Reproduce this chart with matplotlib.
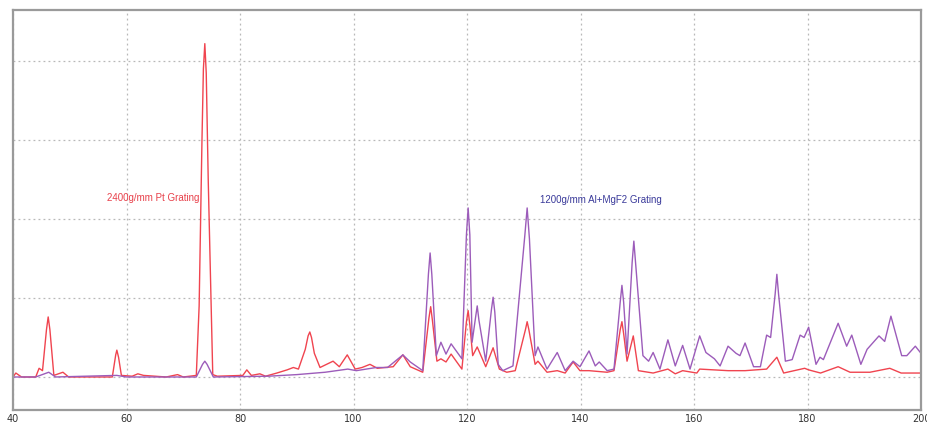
import matplotlib
matplotlib.use("Agg")
import matplotlib.pyplot as plt

# wavelength samples (nm) and relative intensity
pt_x = [40, 40.5, 41.5, 44, 44.6, 45.2, 45.9, 46.2, 46.5, 47.2, 48.8, 49.8, 57.5,
        58.1, 58.3, 58.6, 59.1, 61, 62, 63, 67, 69, 70, 72.3, 72.8, 73.3, 73.55,
        73.8, 74.05, 74.4, 75.2, 76, 80.5, 81.2, 82, 83.5, 84.5, 86.5, 88.3, 89.4,
        90.3, 91.5, 92.0, 92.3, 92.6, 93.1, 94.1, 96.4, 97.5, 98.9, 100.3, 101.5,
        102.9, 104.2, 105.5, 107, 108.7, 110.0, 112.2, 113.3, 113.6, 113.9, 114.7,
        115.4, 116.3, 117.2, 119.1, 119.9, 120.2, 120.5, 121.0, 121.8, 123.3, 124.6,
        125.7, 127, 128.5, 130.3, 130.6, 130.9, 132.0, 132.5, 134.1, 135.9, 137.3,
        138.7, 139.9, 141.5, 144.7, 145.9, 147.0, 147.3, 147.6, 148.2, 149.3, 150.2,
        152.8, 155.4, 156.7, 158.0, 160.5, 161.0, 166, 169, 172.8, 174.6, 175.8,
        179.5, 180.2, 182.3, 185.4, 187.5, 191, 194.5, 196.5, 200]
pt_y = [0.0, 0.05, 0.0, 0.0, 0.11, 0.08, 0.6, 0.76, 0.6, 0.02, 0.06, 0.0, 0.0,
        0.28, 0.34, 0.25, 0.02, 0.01, 0.04, 0.02, 0.0, 0.03, 0.0, 0.02, 0.9, 3.0,
        3.9, 4.22, 3.85, 2.5, 0.03, 0.01, 0.02, 0.09, 0.02, 0.04, 0.01, 0.05, 0.09,
        0.12, 0.1, 0.35, 0.52, 0.57, 0.5, 0.3, 0.12, 0.2, 0.13, 0.28, 0.1, 0.12,
        0.16, 0.11, 0.12, 0.13, 0.28, 0.13, 0.06, 0.75, 0.89, 0.72, 0.2, 0.23, 0.19,
        0.29, 0.1, 0.7, 0.84, 0.66, 0.27, 0.38, 0.13, 0.37, 0.1, 0.06, 0.08, 0.6,
        0.7, 0.6, 0.16, 0.2, 0.06, 0.08, 0.05, 0.19, 0.08, 0.08, 0.06, 0.08, 0.6,
        0.7, 0.55, 0.2, 0.52, 0.08, 0.05, 0.1, 0.04, 0.08, 0.05, 0.1, 0.08, 0.08,
        0.1, 0.25, 0.05, 0.11, 0.09, 0.05, 0.13, 0.06, 0.06, 0.11, 0.05, 0.05]

al_x = [40, 44, 46.3, 47.5, 58.3, 60, 72.3, 73.4, 73.8, 74.2, 75.3, 85, 90, 95, 99,
        100.5, 104, 106, 108.7, 110.0, 112.2, 113.2, 113.5, 113.8, 114.6, 115.4,
        116.3, 117.2, 119.1, 119.9, 120.2, 120.5, 120.9, 121.5, 121.8, 122.1, 123.3,
        124.3, 124.6, 124.9, 125.5, 126.3, 128.1, 130.2, 130.6, 131.0, 132.0, 132.5,
        134.1, 135.9, 137.3, 138.7, 139.9, 141.5, 142.6, 143.3, 144.7, 145.9, 147.0,
        147.3, 147.6, 148.2, 149.1, 149.4, 149.7, 151.0, 152.0, 152.8, 154.0, 155.4,
        156.7, 158.0, 159.3, 161.0, 162.1, 163.6, 164.6, 166.0, 167.4, 168.1, 169.0,
        170.5, 171.7, 172.8, 173.5, 174.3, 174.6, 174.9, 176.1, 177.3, 178.7, 179.4,
        180.2, 181.5, 182.2, 182.8, 185.4, 186.9, 187.8, 189.4, 190.5, 192.6, 193.6,
        194.7, 196.6, 197.5, 199.0, 200]
al_y = [0.0, 0.0, 0.06, 0.0, 0.02, 0.0, 0.0, 0.16, 0.2, 0.16, 0.0, 0.01, 0.03, 0.06,
        0.1, 0.08, 0.12, 0.12, 0.28, 0.19, 0.08, 1.3, 1.57, 1.3, 0.27, 0.44, 0.29,
        0.42, 0.23, 1.8, 2.14, 1.8, 0.44, 0.75, 0.9, 0.72, 0.2, 0.85, 1.01, 0.82,
        0.16, 0.08, 0.14, 1.8, 2.14, 1.75, 0.27, 0.38, 0.1, 0.31, 0.08, 0.2, 0.13,
        0.33, 0.14, 0.19, 0.08, 0.1, 0.95, 1.16, 0.95, 0.29, 1.45, 1.72, 1.45, 0.27,
        0.2, 0.31, 0.1, 0.47, 0.14, 0.4, 0.1, 0.52, 0.31, 0.23, 0.14, 0.39, 0.3,
        0.27, 0.43, 0.13, 0.13, 0.53, 0.5, 1.05, 1.3, 1.05, 0.2, 0.22, 0.53, 0.5,
        0.63, 0.16, 0.25, 0.22, 0.68, 0.39, 0.53, 0.16, 0.35, 0.52, 0.45, 0.77,
        0.27, 0.27, 0.39, 0.3]

x_ticks = [40, 60, 80, 100, 120, 140, 160, 180, 200]
y_grid = [0, 1, 2, 3, 4]

RED = "#f0444f"
PURPLE = "#9c5cba"

fig = plt.figure(figsize=(9.27, 4.27), dpi=100)
ax = fig.add_axes([13 / 927, 16 / 427, 908 / 927, 400 / 427])

ax.plot(pt_x, pt_y, color=RED, lw=1.0)
ax.plot(al_x, al_y, color=PURPLE, lw=1.0)

ax.set_xlim(40, 200)
ax.set_ylim(-0.418, 4.646)
ax.set_xticks(x_ticks)
ax.set_yticks(y_grid)
ax.set_yticklabels([])
ax.tick_params(axis="both", length=0, pad=2, labelsize=7, colors="#333333")
ax.grid(True, color="#b8b8b8", linestyle=(0, (1.5, 2.5)), lw=0.9)
for side in ax.spines.values():
    side.set_color("#9a9a9a")
    side.set_linewidth(1.6)

ax.text(56.6, 2.28, "2400g/mm Pt Grating", color="#e8404a", fontsize=7,
        family="Liberation Sans", va="center")
ax.text(132.9, 2.25, "1200g/mm Al+MgF2 Grating", color="#3a3a9a", fontsize=7,
        family="Liberation Sans", va="center")

fig.savefig("out.png", dpi=100)
